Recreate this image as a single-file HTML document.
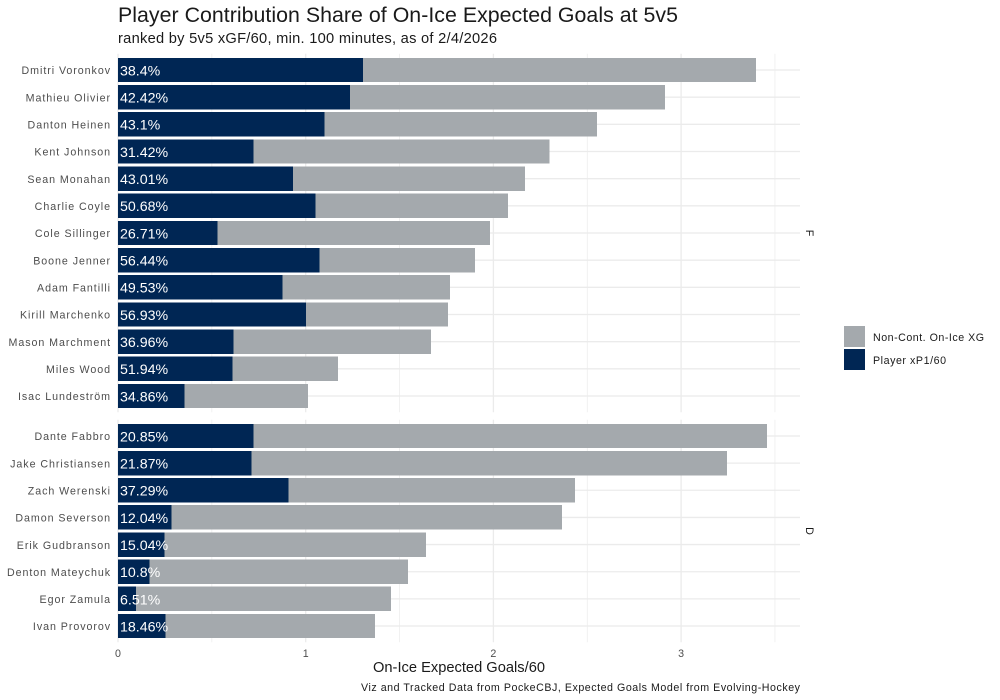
<!DOCTYPE html>
<html lang="en">
<head>
<meta charset="utf-8">
<title>Player Contribution Share of On-Ice Expected Goals at 5v5</title>
<style>
html,body{margin:0;padding:0;background:#fff;width:1000px;height:700px;overflow:hidden}
svg{display:block}
text{font-family:"Liberation Sans",sans-serif}
</style>
</head>
<body>
<svg id="chart" width="1000" height="700" viewBox="0 0 1000 700" xmlns="http://www.w3.org/2000/svg">
  <rect width="1000" height="700" fill="#ffffff"/>
  <text x="118" y="22" font-size="21.33" fill="#1a1a1a" textLength="560">Player Contribution Share of On-Ice Expected Goals at 5v5</text>
  <text x="118" y="43" font-size="14.67" fill="#1a1a1a" textLength="379">ranked by 5v5 xGF/60, min. 100 minutes, as of 2/4/2026</text>
  <g id="grid"></g>
  <g id="bars"></g>
  <g id="labels"></g>
  <g id="yticks"></g>
  <g id="xticks"></g>
  <text transform="translate(806,233) rotate(90)" text-anchor="middle" font-size="10.67" fill="#1a1a1a">F</text>
  <text transform="translate(806,531) rotate(90)" text-anchor="middle" font-size="10.67" fill="#1a1a1a">D</text>
  <text x="373" y="672" font-size="14.67" fill="#1a1a1a" textLength="172">On-Ice Expected Goals/60</text>
  <text x="361" y="691" font-size="10.67" fill="#1a1a1a" textLength="439">Viz and Tracked Data from PockeCBJ, Expected Goals Model from Evolving-Hockey</text>
  <g>
    <rect x="844" y="326" width="21" height="21" fill="#a4a9ad"/>
    <text x="873" y="341" font-size="10.67" fill="#1a1a1a" textLength="111">Non-Cont. On-Ice XG</text>
    <rect x="844" y="349" width="21" height="21" fill="#002654"/>
    <text x="873" y="364" font-size="10.67" fill="#1a1a1a" textLength="73">Player xP1/60</text>
  </g>
</svg>
<script>
// Forwards
const forwardNames = ["Dmitri Voronkov","Mathieu Olivier","Danton Heinen","Kent Johnson","Sean Monahan","Charlie Coyle","Cole Sillinger","Boone Jenner","Adam Fantilli","Kirill Marchenko","Mason Marchment","Miles Wood","Isac Lundeström"];
const forwardPlayer = [1.306,1.236,1.100,0.723,0.932,1.053,0.529,1.073,0.876,1.001,0.616,0.609,0.353];
const forwardOther = [2.094,1.678,1.452,1.577,1.236,1.025,1.453,0.829,0.893,0.757,1.051,0.563,0.659];
const forwardShare = ["38.4%","42.42%","43.1%","31.42%","43.01%","50.68%","26.71%","56.44%","49.53%","56.93%","36.96%","51.94%","34.86%"];
// Defense
const defenseNames = ["Dante Fabbro","Jake Christiansen","Zach Werenski","Damon Severson","Erik Gudbranson","Denton Mateychuk","Egor Zamula","Ivan Provorov"];
const defensePlayer = [0.721,0.710,0.908,0.285,0.247,0.167,0.095,0.253];
const defenseOther = [2.737,2.535,1.527,2.080,1.394,1.378,1.359,1.116];
const defenseShare = ["20.85%","21.87%","37.29%","12.04%","15.04%","10.8%","6.51%","18.46%"];
// Axis ticks
const xMajorTicks = [0,1,2,3];
const xMinorTicks = [0.5,1.5,2.5,3.5];
const xTickLabels = ["0","1","2","3"];

const NS = "http://www.w3.org/2000/svg";
const panelLeft = 118, panelRight = 800;
const xOrigin = 118, xPerUnit = 187.7;
const NAVY = "#002654", GRAY = "#a4a9ad", GRID = "#ebebeb";

function xScale(v){ return xOrigin + v * xPerUnit; }
function bandScale(i, n, top, bottom){
  const step = (bottom - top) / (n - 1 + 1.2);
  return { center: top + (0.6 + i) * step, height: 0.9 * step };
}
function make(tag, attrs, parent){
  const el = document.createElementNS(NS, tag);
  for (const k in attrs) el.setAttribute(k, attrs[k]);
  parent.appendChild(el);
  return el;
}
const gridG = document.getElementById("grid");
const barsG = document.getElementById("bars");
const labelsG = document.getElementById("labels");
const yTicksG = document.getElementById("yticks");
const xTicksG = document.getElementById("xticks");

function drawPanel(key, names, player, other, share, top, bottom){
  xMinorTicks.forEach(function(t){
    const l = make("line", {x1:xScale(t), x2:xScale(t), y1:top, y2:bottom, stroke:GRID, "stroke-width":0.7}, gridG);
    
    
  });
  xMajorTicks.forEach(function(t){
    const l = make("line", {x1:xScale(t), x2:xScale(t), y1:top, y2:bottom, stroke:GRID, "stroke-width":1.3}, gridG);
    
    
  });
  names.forEach(function(name, i){
    const b = bandScale(i, names.length, top, bottom);
    const hl = make("line", {x1:panelLeft, x2:panelRight, y1:b.center, y2:b.center, stroke:GRID, "stroke-width":1.3}, gridG);
    
    

    const grayBar = make("rect", {x:xScale(player[i]), y:b.center-b.height/2, width:xScale(player[i]+other[i])-xScale(player[i]), height:b.height, fill:GRAY, "shape-rendering":"crispEdges"}, barsG);
    
    

    const navyBar = make("rect", {x:xScale(0), y:b.center-b.height/2, width:xScale(player[i])-xScale(0), height:b.height, fill:NAVY, "shape-rendering":"crispEdges"}, barsG);
    
    

    const lab = make("text", {x:120, y:b.center+5.4, "font-size":14.2, fill:"#ffffff"}, labelsG);
    lab.textContent = share[i];
    
    

    const yl = make("text", {x:111, y:b.center+4.2, "font-size":10.67, fill:"#4d4d4d", "text-anchor":"end", "letter-spacing":0.95}, yTicksG);
    yl.textContent = name;
    
    
  });
}
drawPanel("F", forwardNames, forwardPlayer, forwardOther, forwardShare, 53.7, 412.3);
drawPanel("D", defenseNames, defensePlayer, defenseOther, defenseShare, 419.7, 642.3);

xMajorTicks.forEach(function(t, i){
  const tl = make("text", {x:xScale(t), y:657, "font-size":10.67, fill:"#4d4d4d", "text-anchor":"middle"}, xTicksG);
  tl.textContent = xTickLabels[i];
  
  
});
</script>
</body>
</html>
